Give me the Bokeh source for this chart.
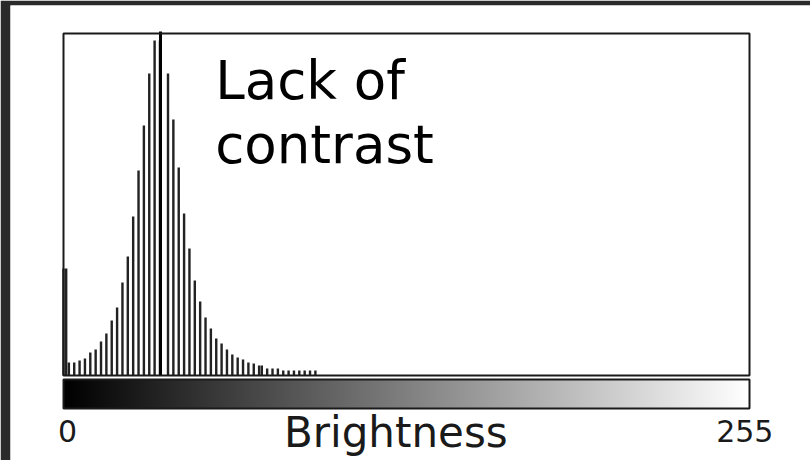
import numpy as np
from bokeh.plotting import figure
from bokeh.models import Range1d
from bokeh.embed import file_html
from bokeh.resources import INLINE
from bokeh.core.properties import value
from bokeh.palettes import Greys256

# ---- data ----
levels = [0, 1, 2, 4, 6, 8, 10, 12, 14, 16, 18, 20, 22, 24, 26, 28, 30, 32, 34, 36,
          39, 41, 43, 45, 47, 49, 51, 53, 55, 57, 59, 61, 63, 65, 67, 69, 71,
          73, 74, 76, 78, 80, 82, 84, 86, 88, 90, 92, 94]
counts = [107, 107, 13, 13, 15, 17, 23, 26, 34, 42, 55, 68, 93, 119, 159, 205, 250, 302, 335, 335,
          302, 256, 208, 162, 127, 95, 74, 58, 47, 37, 32, 26, 21, 18, 16, 13, 12,
          10, 10, 7, 7, 7, 5, 5, 5, 5, 5, 5, 5]
mean_level = 36.2
level_min, level_max = 0, 256
count_max = 342
end_labels = ["0", "255"]
end_positions = [0, 255]
axis_title = "Brightness"
title_position = 124
annotation = ["Lack of", "contrast"]

# ---- layout ----
W, H = 810, 460
edge_left, edge_top = 10, 5          # dark surround
left_px, right_px = 63 - edge_left, 61   # histogram frame margins inside the white panel
top_px, bottom_px = 33 - edge_top, 85
frame_w = W - edge_left
sx = (frame_w - left_px - right_px) / (level_max - level_min)
x_start = level_min - left_px / sx
x_end = level_max + right_px / sx
y_start = -bottom_px
y_end = count_max + top_px

p = figure(width=W, height=H, output_backend="svg", toolbar_location=None,
           x_range=Range1d(x_start, x_end), y_range=Range1d(y_start, y_end),
           x_axis_location=None, y_axis_location=None,
           min_border=0, min_border_left=edge_left, min_border_top=edge_top)
p.grid.visible = False
p.outline_line_color = None
p.background_fill_color = "white"
p.border_fill_color = "#2a2a2a"

ink = "#1a1a1a"

# histogram bars
p.vbar(x=levels, top=counts, bottom=0, width=0.9, fill_color="#222222", line_color=None)

# mean line
p.segment(x0=[mean_level], y0=[0], x1=[mean_level], y1=[count_max + 2],
          line_color="black", line_width=3)

# histogram frame
p.quad(left=[level_min], right=[level_max], bottom=[0], top=[count_max],
       fill_color=None, line_color=ink, line_width=2)

# gradient bar
grad = np.linspace(0, 255, 256).reshape(1, 256)
p.image(image=[grad], x=level_min, y=-33, dw=level_max - level_min, dh=29,
        palette=Greys256, level="image")
p.quad(left=[level_min], right=[level_max], bottom=[-33], top=[-4],
       fill_color=None, line_color=ink, line_width=2)

# end labels
p.text(x=[end_positions[0]], y=[-55], text=[end_labels[0]], text_font=value("DejaVu Sans"),
       text_font_size="30px", text_align="center", text_baseline="alphabetic",
       text_color=ink, x_offset=4)
p.text(x=[end_positions[1]], y=[-55], text=[end_labels[1]], text_font=value("DejaVu Sans"),
       text_font_size="30px", text_align="center", text_baseline="alphabetic",
       text_color=ink, x_offset=-2)
p.text(x=[title_position], y=[-57], text=[axis_title], text_font=value("DejaVu Sans"),
       text_font_size="42px", text_align="center", text_baseline="alphabetic",
       text_color=ink)

# annotation
p.text(x=[56.6, 56.6], y=[295, 231], text=annotation, text_font=value("DejaVu Sans"),
       text_font_size="53px", text_align="left", text_baseline="alphabetic",
       text_color="black")

open("out.html", "w").write(file_html(p, INLINE))
